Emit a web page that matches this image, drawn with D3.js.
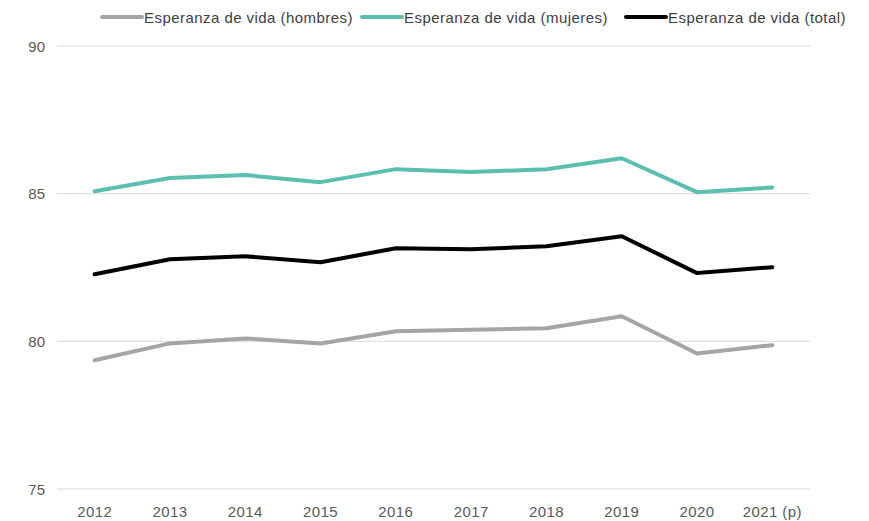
<!DOCTYPE html>
<html>
<head>
<meta charset="utf-8">
<script src="https://cdn.jsdelivr.net/npm/d3@7"></script>
<style>
  body { margin: 0; background: #fff; }
  text { font-family: "Liberation Sans Narrow", "Liberation Sans", Arial, sans-serif; }
</style>
</head>
<body>
<div id="chart"></div>
<script>
// years on the x axis
const years = ["2012", "2013", "2014", "2015", "2016", "2017", "2018", "2019", "2020", "2021 (p)"];
// life expectancy series
const hombres = [79.36, 79.93, 80.1, 79.93, 80.34, 80.39, 80.44, 80.85, 79.59, 79.87];
const mujeres = [85.08, 85.53, 85.63, 85.39, 85.83, 85.73, 85.83, 86.2, 85.05, 85.21];
const total = [82.27, 82.78, 82.88, 82.68, 83.15, 83.12, 83.22, 83.56, 82.31, 82.51];
const yTicks = [75, 80, 85, 90];

const series = [
  { name: "Esperanza de vida (hombres)", values: hombres, color: "#a5a5a5" },
  { name: "Esperanza de vida (mujeres)", values: mujeres, color: "#5bbfb0" },
  { name: "Esperanza de vida (total)", values: total, color: "#000000" }
];

const width = 869, height = 521;
const margin = { top: 46, right: 59, bottom: 32, left: 57 };

const svg = d3.select("#chart").append("svg")
  .attr("width", width)
  .attr("height", height);

const x = d3.scaleBand()
  .domain(years)
  .range([margin.left, width - margin.right]);

const y = d3.scaleLinear()
  .domain([75, 90])
  .range([height - margin.bottom, margin.top]);

// gridlines
svg.append("g")
  .selectAll("line")
  .data(yTicks)
  .enter()
  .append("line")
  .attr("x1", margin.left)
  .attr("x2", width - margin.right)
  .attr("y1", d => y(d))
  .attr("y2", d => y(d))
  .attr("stroke", "#d9d9d9")
  .attr("stroke-width", 1);

// y labels
svg.append("g")
  .selectAll("text")
  .data(yTicks)
  .enter()
  .append("text")
  .attr("x", 45)
  .attr("y", d => y(d))
  .attr("text-anchor", "end")
  .attr("dominant-baseline", "central")
  .attr("font-size", 15)
  .attr("fill", "#595959")
  .text(d => d);

// x labels
svg.append("g")
  .selectAll("text")
  .data(years)
  .enter()
  .append("text")
  .attr("x", d => x(d) + x.bandwidth() / 2)
  .attr("y", 517)
  .attr("text-anchor", "middle")
  .attr("font-size", 15)
  .attr("letter-spacing", 0.4)
  .attr("fill", "#595959")
  .text(d => d);

const line = d3.line()
  .x((d, i) => x(years[i]) + x.bandwidth() / 2)
  .y(d => y(d));

series.forEach(s => {
  svg.append("path")
    .datum(s.values)
    .attr("d", line)
    .attr("fill", "none")
    .attr("stroke", s.color)
    .attr("stroke-width", 4)
    .attr("stroke-linejoin", "round")
    .attr("stroke-linecap", "round");
});

// legend
const legendX = [100, 360, 624];
const legend = svg.append("g")
  .selectAll("g")
  .data(series)
  .enter()
  .append("g")
  .attr("transform", (d, i) => `translate(${legendX[i]},17)`);

legend.append("line")
  .attr("x1", 2)
  .attr("x2", 42)
  .attr("stroke", d => d.color)
  .attr("stroke-width", 4)
  .attr("stroke-linecap", "round");

legend.append("text")
  .attr("x", 44)
  .attr("dominant-baseline", "central")
  .attr("font-size", 15)
  .attr("letter-spacing", 0.45)
  .attr("fill", "#404040")
  .text(d => d.name);
</script>
</body>
</html>
